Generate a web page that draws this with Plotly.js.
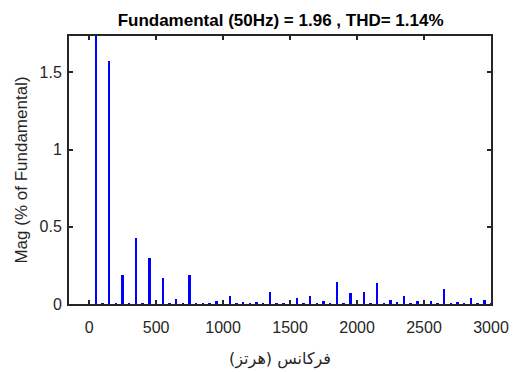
<!DOCTYPE html>
<html>
<head>
<meta charset="utf-8">
<script src="https://cdn.plot.ly/plotly-3.0.1.min.js"></script>
<style>html,body{margin:0;padding:0;background:#fff;}#chart{width:513px;height:372px;}</style>
</head>
<body>
<div id="chart"></div>
<script>
var freqHz = [50,100,150,200,250,300,350,400,450,500,550,600,650,700,750,800,850,900,950,1000,
  1050,1100,1150,1200,1250,1300,1350,1400,1450,1500,1550,1600,1650,1700,1750,1800,1850,1900,1950,2000,
  2050,2100,2150,2200,2250,2300,2350,2400,2450,2500,2550,2600,2650,2700,2750,2800,2850,2900,2950,3000];
var magPct = [100,0.006,1.57,0.007,0.19,0.006,0.43,0.007,0.30,0.006,0.17,0.005,0.03,0.004,0.185,0.005,0.006,0.004,0.022,0.005,
  0.052,0.006,0.013,0.005,0.010,0.006,0.078,0.005,0.008,0.006,0.036,0.007,0.052,0.008,0.018,0.006,0.143,0.007,0.071,0.006,
  0.076,0.008,0.139,0.006,0.024,0.010,0.052,0.008,0.020,0.010,0.020,0.008,0.100,0.007,0.012,0.008,0.042,0.007,0.025,0.008];
var xTicks = [0,500,1000,1500,2000,2500,3000];
var yTicks = [0,0.5,1,1.5];
var titleText = 'Fundamental (50Hz) = 1.96 , THD= 1.14%';
var xLabel = 'فرکانس (هرتز)';
var yLabel = 'Mag (% of Fundamental)';

var axisColor = '#262626';
var data = [{
  type: 'bar',
  x: freqHz,
  y: magPct,
  width: 18,
  marker: {color: '#0000ff', line: {width: 0}},
  hoverinfo: 'skip'
}];
var layout = {
  width: 513, height: 372,
  margin: {l: 69, r: 22, t: 36, b: 68},
  paper_bgcolor: '#ffffff', plot_bgcolor: '#ffffff',
  showlegend: false,
  font: {family: 'Liberation Sans, Arial, sans-serif', color: axisColor},
  title: {text: titleText, font: {size: 17, color: '#000000', family: 'Liberation Sans, Arial, sans-serif', weight: 'bold'}, x: 0.547, xanchor: 'center', y: 0.945, yanchor: 'middle'},
  xaxis: {
    range: [-150, 3000], tickvals: xTicks, ticktext: xTicks.map(String),
    ticks: 'inside', ticklen: 4, tickwidth: 2, tickcolor: axisColor,
    showline: true, linecolor: axisColor, linewidth: 2, mirror: 'ticks',
    showgrid: false, zeroline: false,
    tickfont: {size: 16, color: axisColor}, ticklabelstandoff: 8,
    title: {text: xLabel, font: {size: 16, color: axisColor, family: 'DejaVu Sans, sans-serif'}, standoff: 18}
  },
  yaxis: {
    range: [0, 1.735], tickvals: yTicks, ticktext: ['0','0.5','1','1.5'],
    ticks: 'inside', ticklen: 4, tickwidth: 2, tickcolor: axisColor,
    showline: true, linecolor: axisColor, linewidth: 2, mirror: 'ticks',
    showgrid: false, zeroline: false,
    tickfont: {size: 16, color: axisColor}, ticklabelstandoff: 2,
    title: {text: yLabel, font: {size: 17, color: axisColor}, standoff: 8}
  },
  bargap: 0
};
Plotly.newPlot('chart', data, layout, {displayModeBar: false, staticPlot: true});
</script>
</body>
</html>
